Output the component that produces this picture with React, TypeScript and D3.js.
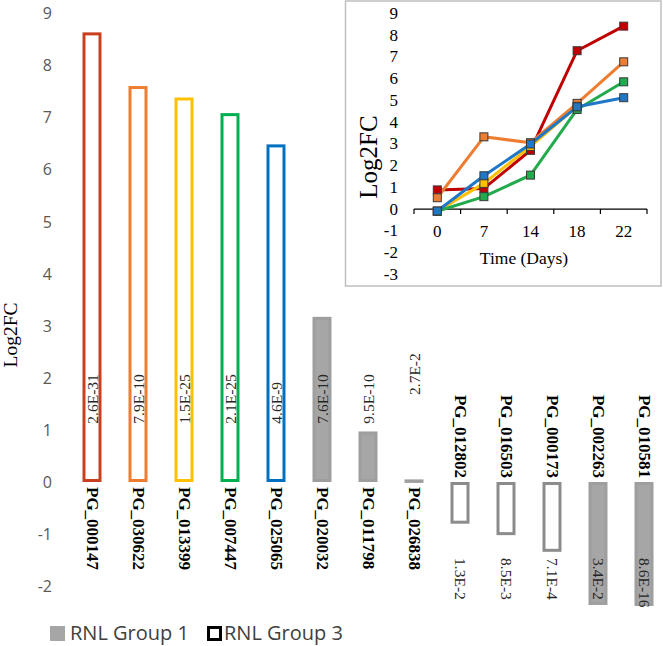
import React from "react";
import * as d3 from "d3";

const categories = ["PG_000147","PG_030622","PG_013399","PG_007447","PG_025065","PG_020032","PG_011798","PG_026838","PG_012802","PG_016503","PG_000173","PG_002263","PG_010581"];
const values = [8.63, 7.60, 7.38, 7.08, 6.48, 3.17, 0.97, 0.05, -0.8, -1.02, -1.34, -2.36, -2.38];
const pvalues = ["2.6E-31","7.9E-10","1.5E-25","2.1E-25","4.6E-9","7.6E-10","9.5E-10","2.7E-2","1.3E-2","8.5E-3","7.1E-4","3.4E-2","8.6E-16"];
const groups = [3,3,3,3,3,1,1,1,3,3,3,1,1];
const yTicks = [-2,-1,0,1,2,3,4,5,6,7,8,9];

const days = ["0","7","14","18","22"];
const redSeries = [0.88, 0.95, 2.7, 7.28, 8.41];
const orangeSeries = [0.52, 3.32, 3.05, 4.86, 6.77];
const yellowSeries = [-0.1, 1.18, 2.88, 4.72, null];
const greenSeries = [-0.1, 0.57, 1.56, 4.58, 5.85];
const blueSeries = [-0.09, 1.53, 2.99, 4.7, 5.12];
const insetTicks = [-3,-2,-1,0,1,2,3,4,5,6,7,8,9];

const barColors = ["#C9401F","#ED7D31","#FFC000","#00B050","#0070C0"];
const group1Fill = "#A6A6A6";
const group3Gray = "#8C8C8C";
const insetColors = ["#C00000","#ED7D31","#FFC000","#22AA4C","#1F77C8"];

const serif = "'Liberation Serif', 'Times New Roman', serif";
const sans = "'Open Sans', 'Noto Sans', sans-serif";

export default function App() {
  const W = 663, H = 646;
  const x = d3.scaleBand<string>().domain(categories).range([69, 667]).paddingInner(0.587).paddingOuter(0.2935);
  const y = d3.scaleLinear().domain([-2, 9]).range([586.2, 13.1]);
  const bw = x.bandwidth();

  const ix = d3.scaleBand<string>().domain(days).range([414, 647]).padding(0);
  const iy = d3.scaleLinear().domain([-3, 9]).range([274.3, 13.3]);
  const ibw = ix.bandwidth();
  const insetSeries = [redSeries, orangeSeries, yellowSeries, greenSeries, blueSeries];
  const line = d3.line<[string, number | null]>()
    .defined(d => d[1] !== null)
    .x(d => (ix(d[0]) as number) + ibw / 2)
    .y(d => iy(d[1] as number));

  return (
    <svg width={W} height={H} style={{ position: "absolute", left: 0, top: 0, background: "#fff" }}>
      {/* y axis labels */}
      {yTicks.map(t => (
        <text key={t} x={52} y={y(t)} textAnchor="end" dominantBaseline="central" fontFamily={sans} fontSize={16} fill="#595959">{t}</text>
      ))}
      <text transform={`translate(17,335) rotate(-90)`} textAnchor="middle" fontFamily={serif} fontSize={19.5} fill="#000">Log2FC</text>

      {/* bars */}
      {categories.map((c, i) => {
        const v = values[i];
        const x0 = x(c) as number;
        const top = y(Math.max(0, v));
        const h = Math.abs(y(v) - y(0));
        const g1 = groups[i] === 1;
        const stroke = g1 ? "#9E9E9E" : (v > 0 ? barColors[i] : group3Gray);
        return (
          <rect key={c} x={x0 + 1.5} y={top + 1.5} width={bw - 3} height={Math.max(h - 3, 0.5)}
            fill={g1 ? group1Fill : "#fff"} stroke={stroke} strokeWidth={3} />
        );
      })}

      {/* category labels */}
      {categories.map((c, i) => {
        const cx = (x(c) as number) + bw / 2;
        const v = values[i];
        return v >= 0 ? (
          <text key={c} transform={`translate(${cx},${y(0) + 5}) rotate(90)`} textAnchor="start" dominantBaseline="central"
            fontFamily={serif} fontWeight="bold" fontSize={17} fill="#000">{c}</text>
        ) : (
          <text key={c} transform={`translate(${cx},${y(0) - 4}) rotate(90)`} textAnchor="end" dominantBaseline="central"
            fontFamily={serif} fontWeight="bold" fontSize={17} fill="#000">{c}</text>
        );
      })}

      {/* p-value labels */}
      {categories.map((c, i) => {
        const cx = (x(c) as number) + bw / 2;
        const v = values[i];
        if (v >= 0) {
          const base = v < 0.5 ? y(1.67) : y(1.12);
          return (
            <text key={c} transform={`translate(${cx},${base}) rotate(-90)`} textAnchor="start" dominantBaseline="central"
              fontFamily={serif} fontSize={15.5} fill="#262626">{pvalues[i]}</text>
          );
        }
        return (
          <text key={c} transform={`translate(${cx},${y(-1.46)}) rotate(90)`} textAnchor="start" dominantBaseline="central"
            fontFamily={serif} fontSize={15.5} fill="#262626">{pvalues[i]}</text>
        );
      })}

      {/* legend */}
      <rect x={50} y={626} width={15} height={15} fill={group1Fill} />
      <text x={70} y={640} fontFamily={sans} fontSize={20} fill="#404040">RNL Group 1</text>
      <rect x={208.5} y={627.5} width={12} height={12} fill="#fff" stroke="#000" strokeWidth={3} />
      <text x={224} y={640} fontFamily={sans} fontSize={20} fill="#404040">RNL Group 3</text>

      {/* inset */}
      <rect x={345.5} y={1} width={315.5} height={285} fill="#fff" stroke="#BFBFBF" strokeWidth={1.5} />
      {insetTicks.map(t => (
        <text key={t} x={398} y={iy(t)} textAnchor="end" dominantBaseline="central" fontFamily={serif} fontSize={17} fill="#000">{t}</text>
      ))}
      <line x1={414} x2={647} y1={iy(0)} y2={iy(0)} stroke="#000" strokeWidth={1.2} />
      {[...days.map(d => ix(d) as number), 647].map((tx, i) => (
        <line key={i} x1={tx} x2={tx} y1={iy(0)} y2={iy(0) + 5} stroke="#000" strokeWidth={1.2} />
      ))}
      {days.map(d => (
        <text key={d} x={(ix(d) as number) + ibw / 2} y={231} textAnchor="middle" dominantBaseline="central" fontFamily={serif} fontSize={17} fill="#000">{d}</text>
      ))}
      <text x={524} y={258} textAnchor="middle" dominantBaseline="central" fontFamily={serif} fontSize={17.5} fill="#000">Time (Days)</text>
      <text transform={`translate(368,157) rotate(-90)`} textAnchor="middle" dominantBaseline="central" fontFamily={serif} fontSize={25} fill="#000">Log2FC</text>
      {insetSeries.map((s, k) => (
        <path key={k} d={line(days.map((d, i) => [d, s[i]] as [string, number | null])) || ""} fill="none" stroke={insetColors[k]} strokeWidth={3} strokeLinejoin="round" />
      ))}
      {insetSeries.map((s, k) => (
        <g key={k}>
          {days.map((d, i) => s[i] === null ? null : (
            <rect key={d} x={(ix(d) as number) + ibw / 2 - 4} y={iy(s[i] as number) - 4} width={8} height={8}
              fill={insetColors[k]} stroke="#3A3A3A" strokeWidth={1} />
          ))}
        </g>
      ))}
    </svg>
  );
}
